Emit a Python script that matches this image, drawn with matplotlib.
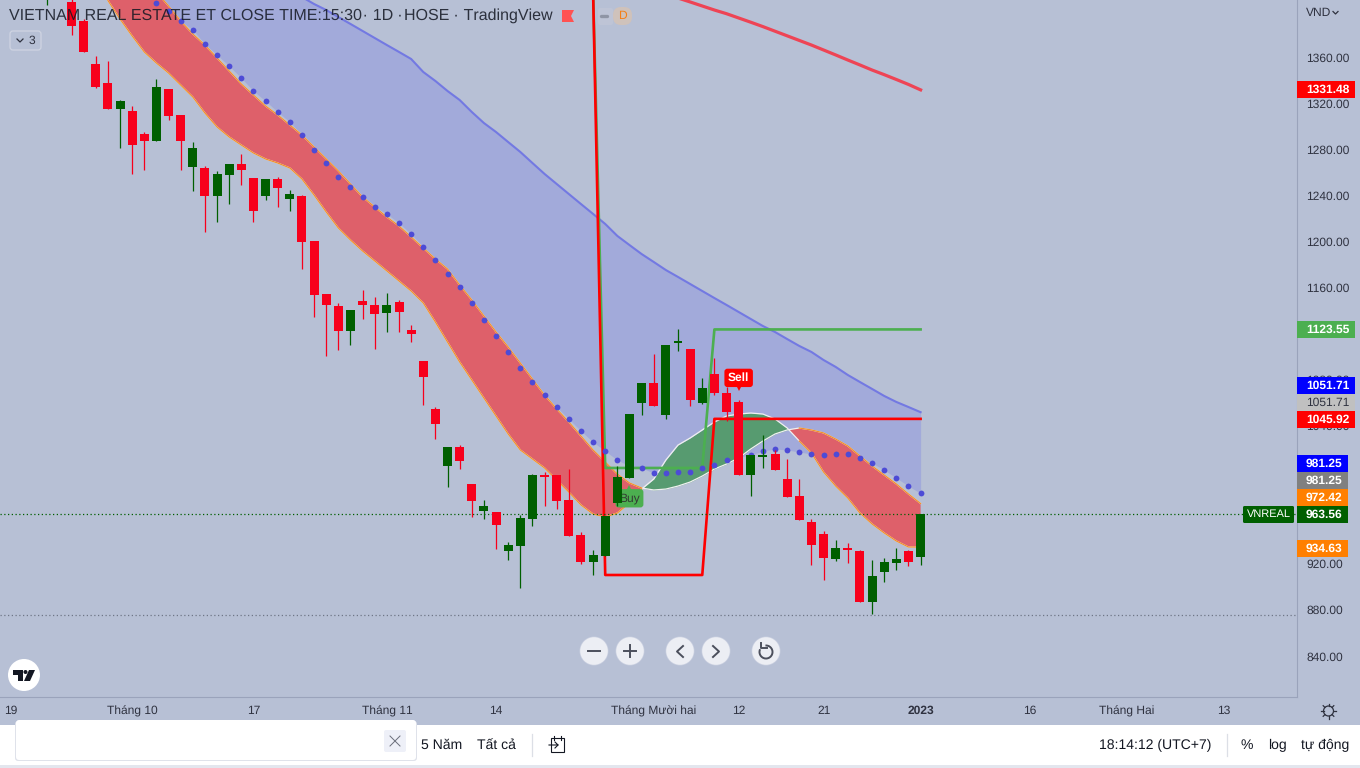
import numpy as np
import matplotlib
matplotlib.use("Agg")
import matplotlib.pyplot as plt
from matplotlib.patches import Circle, Rectangle, FancyBboxPatch, Polygon, Arc

plt.rcParams['font.family'] = ['Liberation Sans', 'DejaVu Sans']
plt.rcParams['text.hinting'] = 'none'
plt.rcParams['text.hinting_factor'] = 1

# candles, bar -2 .. bar 70
bars = np.arange(-2, 71)
opens = [1420, 1440, 1407.8, 1391.3, 1354, 1337.5, 1314.9, 1313.2, 1293.2, 1287.1, 1332.2, 1309.7, 1264.5, 1263.7, 1239.4, 1257.6, 1267.1, 1255, 1239.4, 1254.1, 1236.8, 1239.4, 1200.3, 1154.3, 1143.9, 1122.2, 1148.2, 1144.8, 1137.8, 1147.4, 1123, 1096.1, 1054.5, 1005, 1021.5, 989.4, 965.9, 965, 931.2, 935.6, 959, 997.2, 997.2, 975.5, 945.1, 921.7, 926.9, 972.9, 994.6, 1059.7, 1077, 1049.3, 1111.8, 1106.6, 1059.7, 1084.9, 1068.4, 1060.6, 997.2, 1013.2, 1015.4, 993.7, 979, 956.4, 946, 924.3, 933.8, 931.2, 887, 913, 920.8, 931.2, 926]
closes = [1430, 1425, 1387, 1364.4, 1334, 1314.9, 1321.8, 1283.6, 1287.1, 1334, 1308.8, 1287.1, 1281, 1239.4, 1258.5, 1267.1, 1261.9, 1226.4, 1254.1, 1246.3, 1241.1, 1199.4, 1153.4, 1144.8, 1122.2, 1140.4, 1144.8, 1137, 1144.8, 1138.7, 1119.6, 1082.3, 1041.5, 1021.5, 1009.4, 974.6, 970.3, 953.8, 936.4, 959.9, 997.2, 995.8, 974.6, 944.3, 921.7, 927.8, 961.6, 995.5, 1050.1, 1077, 1057, 1110, 1113.5, 1062.3, 1072.7, 1068.4, 1051.9, 997.2, 1014.6, 1014.6, 1001.5, 978.1, 958.1, 936.4, 925.2, 933.8, 932.4, 887, 909.5, 921.7, 924.3, 921.7, 963.56]
highs = [1440, 1445, 1415, 1393, 1361, 1356.5, 1322.7, 1317.5, 1295, 1340.9, 1332.2, 1309.7, 1286.2, 1265.4, 1261, 1267.1, 1275.8, 1255, 1254.1, 1255.9, 1244.6, 1240.2, 1200.3, 1154.3, 1146.5, 1140.4, 1157.8, 1151.7, 1155.2, 1149.1, 1127.4, 1096.1, 1056.2, 1021.5, 1023.2, 989.4, 975.5, 965, 939, 962.5, 998, 999.8, 997.2, 1002.4, 947.7, 932.1, 961.6, 1005, 1050.1, 1077, 1102.2, 1110, 1123.9, 1106.6, 1081.4, 1098.7, 1073.6, 1062.3, 1014.6, 1031.9, 1018.9, 1011, 993.7, 959, 948.6, 940.8, 938.2, 932.1, 923.4, 925.2, 933.8, 932.1, 963.56]
lows = [1405, 1415, 1379, 1364.4, 1333, 1315, 1281, 1258.5, 1262, 1287, 1305.3, 1262, 1243.7, 1208.1, 1216.8, 1232.4, 1248.9, 1216.8, 1235.9, 1229.8, 1226.4, 1176, 1134, 1100.5, 1105.7, 1110, 1132.6, 1106.6, 1121.3, 1121.3, 1112.6, 1058, 1028.4, 986.8, 1002.4, 960.7, 959, 933, 923.4, 899.1, 953, 970.3, 967.7, 944.3, 920, 910.4, 926.9, 970.3, 994.6, 1049.3, 1057, 1045.8, 1104.8, 1057, 1058.8, 1066.6, 1044.1, 997.2, 979, 1003.3, 1001.5, 978.1, 958.1, 919.1, 906.1, 922.6, 920.8, 887, 876.5, 904.3, 914.8, 918.2, 919.1]

# ribbon edges, bar 3 .. bar 70
ribbon_bars = np.arange(3, 71)
fast_ma = [1409.1, 1393, 1378.3, 1364.4, 1354.8, 1346.1, 1335.7, 1325.3, 1311.4, 1299.3, 1290.6, 1283.6, 1276.7, 1271.5, 1268, 1263.7, 1254.1, 1240.2, 1225.5, 1211.6, 1201.2, 1191.6, 1183, 1174.3, 1165.6, 1156.9, 1146.5, 1130, 1112.6, 1095.3, 1079.7, 1064, 1048.4, 1032.8, 1018.9, 1011.1, 1003.3, 992.9, 982.4, 971.2, 963.3, 960.7, 964.2, 972.9, 985, 993.7, 1010.2, 1023.2, 1029.3, 1036.3, 1043.2, 1048.4, 1050.1, 1051, 1050.1, 1045.8, 1038, 1026.7, 1016.3, 999.8, 987.6, 977.2, 964.2, 954.7, 946.9, 939.9, 934.7, 934.63]
slow_ma = [1461.6, 1450.3, 1439, 1427.7, 1416.4, 1404.3, 1391.3, 1380, 1370.4, 1359.2, 1347.9, 1336.6, 1327, 1317.5, 1309.7, 1301, 1292.3, 1281.9, 1271.5, 1261.1, 1249.8, 1238.5, 1229.8, 1221.1, 1213.3, 1203.8, 1194.2, 1184.7, 1176, 1162.1, 1149.1, 1135.2, 1121.3, 1108.3, 1094.4, 1080.5, 1066.6, 1054.5, 1043.2, 1031, 1018.9, 1008.5, 998, 990.3, 985.9, 984.2, 985, 987.6, 991.1, 996.3, 1002.4, 1006.7, 1012, 1019.8, 1026.7, 1032.8, 1036.3, 1038, 1036.3, 1033.7, 1028.4, 1022.4, 1013.7, 1005, 997.2, 989.4, 980.7, 972.42]

# blue line and dots, bar 7 .. bar 70
cloud_bars = np.arange(7, 71)
blue_line = [1483.3, 1477.2, 1471.1, 1465.1, 1459, 1452.9, 1446.8, 1440.7, 1434.7, 1428.6, 1422.5, 1417.3, 1412.1, 1406, 1400.8, 1394.7, 1388.7, 1382.6, 1376.5, 1370.4, 1364.4, 1358.3, 1347, 1339.2, 1330.5, 1322.7, 1312.3, 1302.7, 1294.9, 1286.2, 1277.6, 1268, 1258.5, 1249.8, 1241.1, 1232.4, 1223.8, 1215.1, 1204.7, 1196.8, 1189, 1182.1, 1175.1, 1169.1, 1163, 1156.9, 1150.8, 1144.8, 1138.7, 1132.6, 1126.5, 1121.3, 1115.2, 1109.2, 1104, 1097, 1091, 1084, 1077.9, 1071.9, 1065.8, 1060.6, 1056.2, 1051.71]
dots = [1406.9, 1400, 1391.3, 1383.5, 1371.3, 1361.8, 1352.2, 1341.8, 1330.5, 1321.8, 1312.3, 1303.6, 1292.3, 1279.3, 1268, 1255.9, 1247.2, 1238.5, 1229.8, 1223.8, 1215.9, 1206.4, 1195.1, 1183.8, 1171.7, 1160.4, 1146.5, 1131.7, 1117.9, 1104, 1090.1, 1077.9, 1066.6, 1056.2, 1045.8, 1035.4, 1025.8, 1018, 1010.2, 1005, 1003.3, 998.9, 998.9, 999.8, 999.8, 1003.3, 1005.9, 1010.2, 1012.8, 1014.6, 1018, 1019.8, 1018.9, 1017.2, 1015.4, 1014.6, 1015.4, 1015.4, 1012, 1007.6, 1001.5, 994.6, 987.6, 981.25]

# long red average, bar 50 .. bar 70
long_bars = np.arange(50, 71)
long_ma = [1411.2, 1407.8, 1404.3, 1400.8, 1397.6, 1393.9, 1390.2, 1386.4, 1382.4, 1378.4, 1374.4, 1370.4, 1366.1, 1361.8, 1357.4, 1353.1, 1348.7, 1344.7, 1340.5, 1336.2, 1331.48]

# step lines, bar 43 .. bar 70
step_bars = np.arange(43, 71)
red_step = [1416.4] + [910.4] * 9 + [1045.92] * 18
green_step = [1416.4] + [1003.3] * 9 + [1123.55] * 18

# 1120, 1000 and 960 sit fully behind the price tags in the reference
price_ticks = [1360, 1320, 1280, 1240, 1200, 1160, 1080, 1040, 920, 880, 840]
time_ticks = [-5, 5, 15, 26, 35, 48, 55, 62, 70, 79, 87, 95]
time_labels = ["19", "Tháng 10", "17", "Tháng 11", "14", "Tháng Mười hai", "12", "21", "2023", "16", "Tháng Hai", "13"]
last_close = 963.56
low_line = 875.7

BG = "#b7c0d5"
UP = "#005f00"
DOWN = "#f7001c"
TEXT = "#2f3240"

fig = plt.figure(figsize=(13.6, 7.68), dpi=100, facecolor=BG)
ax = fig.add_axes([0, 71 / 768, 1297 / 1360, 697 / 768], facecolor=BG)
ax.set_xlim(-5.895, 101.03)
ax.set_ylim(804.5, 1409.5)

# cloud and ribbon
ax.fill_between(cloud_bars, blue_line, dots, color="#a2aada", lw=0, zorder=1)
fast = np.array(fast_ma)
slow = np.array(slow_ma)
ax.fill_between(ribbon_bars, fast, slow, where=fast <= slow, interpolate=True, color="#de606a", lw=0, zorder=2)
ax.fill_between(ribbon_bars, fast, slow, where=fast >= slow, interpolate=True, color="#579b70", lw=0, zorder=2)
# edges: orange while falling, white while rising
fast_edge = np.ma.masked_where(fast > slow + 1, fast)
slow_edge = np.ma.masked_where(fast > slow + 1, slow)
ax.plot(ribbon_bars, fast, color="#f0f0f0", lw=0.9, zorder=3)
ax.plot(ribbon_bars, slow, color="#f0f0f0", lw=0.9, zorder=3)
ax.plot(ribbon_bars, fast_edge, color="#f2902c", lw=0.9, zorder=3)
ax.plot(ribbon_bars, slow_edge, color="#f2902c", lw=0.9, zorder=3)

ax.plot(cloud_bars, blue_line, color="#7379e2", lw=1.5, zorder=3)
ax.plot(long_bars, long_ma, color="#ee4455", lw=2.3, zorder=3)
ax.plot(step_bars, green_step, color="#4caf50", lw=1.9, zorder=4)
ax.plot(step_bars, red_step, color="#ff0000", lw=1.9, zorder=4)
ax.plot(cloud_bars, dots, ls="none", marker="o", ms=4.2, mew=0, color="#4d4bd6", zorder=5)

ax.axhline(last_close, color=UP, lw=0.9, ls=(0, (1, 2)), zorder=4)
ax.axhline(low_line, color="#6f7686", lw=0.9, ls=(0, (1, 2)), zorder=4)

# buy / sell labels
ax.text(46, 977, "Buy", ha="center", va="center", fontsize=8.6, color="#333a33", zorder=5,
        bbox=dict(boxstyle="round,pad=0.3,rounding_size=0.25", fc="#4caf50", ec="none"))
ax.plot([46], [985.5], marker="^", ms=5, mew=0, color="#4caf50", zorder=5)
ax.text(55, 1081.5, "Sell", ha="center", va="center", fontsize=8.6, color="white", fontweight="bold", zorder=7,
        bbox=dict(boxstyle="round,pad=0.3,rounding_size=0.25", fc="#ff0000", ec="none"))
ax.plot([55], [1072.5], marker="v", ms=5, mew=0, color="#ff0000", zorder=7)

# candles
o = np.array(opens)
c = np.array(closes)
colors = [UP if cc >= oo else DOWN for oo, cc in zip(o, c)]
ax.vlines(bars, lows, highs, colors=colors, lw=0.9, zorder=6)
ax.bar(bars, np.abs(c - o), 0.74, np.minimum(o, c), color=colors, lw=0, antialiased=False, zorder=6)

# axes
for s in ["top", "left"]:
    ax.spines[s].set_visible(False)
ax.spines["right"].set_color("#9aa3bb")
ax.spines["bottom"].set_color("#9aa3bb")
ax.yaxis.tick_right()
ax.set_yticks(price_ticks)
ax.set_yticklabels(["%.2f" % p for p in price_ticks])
ax.tick_params(axis="y", length=0, pad=6.5, labelsize=8.7, labelcolor=TEXT)
ax.set_xticks(time_ticks)
ax.set_xticklabels(time_labels)
ax.tick_params(axis="x", length=0, pad=6, labelsize=8.7, labelcolor=TEXT)
for lab in ax.get_xticklabels():
    if lab.get_text() == "2023":
        lab.set_fontweight("bold")

# chrome drawn in pixels on top of the chart
ui = fig.add_axes([0, 0, 1, 1], zorder=10)
ui.set_xlim(0, 1360)
ui.set_ylim(768, 0)
ui.axis("off")
ui.patch.set_visible(False)

# price tags
tags = [
    (89.5, 1355, "#ff0000", "1331.48", "white"),
    (329.5, 1355, "#4caf50", "1123.55", "white"),
    (385.5, 1355, "#0000ff", "1051.71", "white"),
    (402.5, 1355, "#c0c0c0", "1051.71", TEXT),
    (419.5, 1355, "#ff0000", "1045.92", "white"),
    (463.5, 1348, "#0000ff", "981.25", "white"),
    (480.5, 1348, "#808080", "981.25", "white"),
    (497.5, 1348, "#ff7f00", "972.42", "white"),
    (514.5, 1348, UP, "963.56", "white"),
    (548.5, 1348, "#ff7f00", "934.63", "white"),
]
for yy, x1, col, txt, tc in tags:
    ui.add_patch(Rectangle((1297, yy - 8.5), x1 - 1297, 17, fc=col, ec="none"))
    ui.text(1306, yy, txt, color=tc, fontsize=8.7, fontweight="bold" if tc == "white" else "normal", ha="left", va="center")
ui.add_patch(FancyBboxPatch((1243, 506), 51, 17, boxstyle="round,pad=0,rounding_size=1.5", fc=UP, ec="none"))
ui.text(1268.5, 514.5, "VNREAL", color="white", fontsize=8.2, ha="center", va="center")
ui.text(1306, 13, "VND", color=TEXT, fontsize=8.7, ha="left", va="center")
ui.plot([1333, 1335.5, 1338], [11.5, 14, 11.5], color=TEXT, lw=0.9)

# header, in pieces because glyph advances snap to whole pixels
for hx, part in [(9, "VIETNAM REAL ESTATE ET CLOSE TIME:15:30"), (363, "· 1D ·"), (404, "HOSE · TradingView")]:
    ui.text(hx, 15.5, part, color="#131722", alpha=0.85, fontsize=11.18, ha="left", va="center")
ui.add_patch(Polygon([(562, 10), (574, 10), (571, 16), (574, 22), (562, 22)], fc="#ff5252", ec="none"))
ui.add_patch(FancyBboxPatch((598, 8), 15, 17, boxstyle="round,pad=0,rounding_size=2", fc="#bec4d6", ec="none"))
ui.add_patch(FancyBboxPatch((613, 7), 19, 18, boxstyle="round,pad=0,rounding_size=8", fc="#cfc2bb", ec="none"))
ui.plot([601, 607], [16, 16], color="#8f95a5", lw=2.4, solid_capstyle="round")
ui.text(622, 16, "D", color="#f57f17", fontsize=8.5, ha="center", va="center")
ui.add_patch(FancyBboxPatch((10, 31), 31, 19, boxstyle="round,pad=0,rounding_size=3", fc="none", ec="#cfd4e2", lw=0.9))
ui.plot([17, 20, 23], [39, 42, 39], color=TEXT, lw=0.9)
ui.text(32, 40.5, "3", color=TEXT, fontsize=8.7, ha="center", va="center")

# zoom / scroll buttons
for bx in [594, 630, 680, 716, 766]:
    ui.add_patch(Circle((bx, 651), 14.5, fc="#c9cfe0", ec="none"))
    ui.add_patch(Circle((bx, 651), 13.8, fc="#eceef4", ec="none"))
ICON = "#4b4f5c"
ui.plot([588, 600], [651, 651], color=ICON, lw=1.4)
ui.plot([624, 636], [651, 651], color=ICON, lw=1.4)
ui.plot([630, 630], [645, 657], color=ICON, lw=1.4)
ui.plot([683, 677, 683], [646, 651.5, 657], color=ICON, lw=1.4)
ui.plot([713, 719, 713], [646, 651.5, 657], color=ICON, lw=1.4)
ui.add_patch(Arc((766, 652), 13, 13, theta1=265, theta2=565, color=ICON, lw=1.4))
ui.plot([761, 761, 767], [642.5, 648, 648], color=ICON, lw=1.4)

# tradingview logo
ui.add_patch(Circle((24, 675), 16, fc="white", ec="none"))
ui.add_patch(Polygon([(13, 670), (23, 670), (23, 681), (18, 681), (18, 674.5), (13, 674.5)], fc="#131722", ec="none"))
ui.add_patch(Circle((25.5, 672), 2, fc="#131722", ec="none"))
ui.add_patch(Polygon([(29, 670), (35, 670), (30, 681), (24, 681)], fc="#131722", ec="none"))

# settings gear
ui.add_patch(Circle((1328.5, 711), 5, fc="none", ec=TEXT, lw=0.9))
for a in np.deg2rad(np.arange(0, 360, 45)):
    ui.plot([1328.5 + 5 * np.cos(a), 1328.5 + 7.5 * np.cos(a)], [711 + 5 * np.sin(a), 711 + 7.5 * np.sin(a)], color=TEXT, lw=0.9)

# bottom toolbar
ui.add_patch(Rectangle((0, 725), 1360, 40, fc="white", ec="none"))
ui.add_patch(Rectangle((0, 765), 1360, 3, fc="#e3e6ee", ec="none"))
ui.add_patch(FancyBboxPatch((15, 721), 402, 40, boxstyle="round,pad=0,rounding_size=3", fc="#dfe2ea", ec="none"))
ui.add_patch(FancyBboxPatch((16, 720), 400, 40, boxstyle="round,pad=0,rounding_size=3", fc="white", ec="none"))
ui.add_patch(FancyBboxPatch((384, 730), 22, 22, boxstyle="round,pad=0,rounding_size=2", fc="#eef0f8", ec="none"))
ui.plot([390, 400], [736, 746], color="#6a6e7a", lw=0.7)
ui.plot([390, 400], [746, 736], color="#6a6e7a", lw=0.7)
ui.text(421, 745, "5 Năm", color="#131722", fontsize=10.1, ha="left", va="center")
ui.text(477, 745, "Tất cả", color="#131722", fontsize=10.1, ha="left", va="center")
ui.plot([532, 532], [734, 756], color="#dcdfe6", lw=0.9)
ui.add_patch(Rectangle((551, 738), 13, 14, fc="none", ec="#131722", lw=0.8))
ui.plot([549, 558, 555], [745, 745, 742], color="#131722", lw=0.8)
ui.plot([555, 558], [748, 745], color="#131722", lw=0.8)
ui.plot([554, 554], [736, 740], color="#131722", lw=0.8)
ui.plot([561, 561], [736, 740], color="#131722", lw=0.8)
ui.text(1099, 745, "18:14:12 (UTC+7)", color="#131722", fontsize=10.1, ha="left", va="center")
ui.plot([1227, 1227], [734, 756], color="#dcdfe6", lw=0.9)
ui.text(1247, 745, "%", color="#131722", fontsize=10.1, ha="center", va="center")
ui.text(1277, 745, "log", color="#131722", fontsize=10.1, ha="center", va="center")
ui.text(1325, 745, "tự động", color="#131722", fontsize=10.1, ha="center", va="center")

fig.savefig("out.png", dpi=100, facecolor=BG)
